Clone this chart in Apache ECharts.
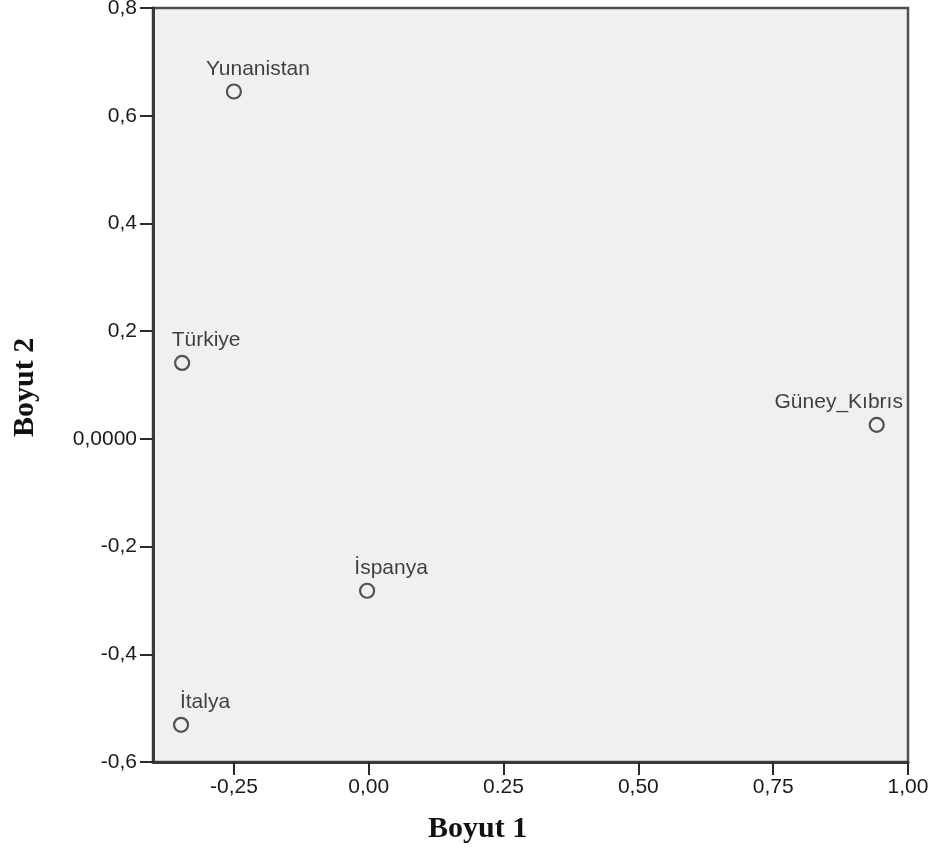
<!DOCTYPE html>
<html>
<head>
<meta charset="utf-8">
<script src="https://cdn.jsdelivr.net/npm/echarts@6/dist/echarts.min.js"></script>
<style>
  html, body { margin: 0; padding: 0; background: #ffffff; overflow: hidden; }
  #chart { width: 928px; height: 852px; }
</style>
</head>
<body>
<div id="chart"></div>
<script>
// Two-dimensional configuration of the countries
const countries = ['Yunanistan', 'Türkiye', 'Güney_Kıbrıs', 'İspanya', 'İtalya'];
const dim1 = [-0.250, -0.346, 0.942, -0.003, -0.348];
const dim2 = [0.645, 0.141, 0.026, -0.282, -0.531];

// Axis ticks and their printed labels
const xTicks = [-0.25, 0, 0.25, 0.5, 0.75, 1.0];
const xTickLabels = ['-0,25', '0,00', '0.25', '0,50', '0,75', '1,00'];
const yTicks = [-0.6, -0.4, -0.2, 0, 0.2, 0.4, 0.6, 0.8];
const yTickLabels = ['-0,6', '-0,4', '-0,2', '0,0000', '0,2', '0,4', '0,6', '0,8'];

const axisTitleX = 'Boyut 1';
const axisTitleY = 'Boyut 2';

function tickLabel(ticks, labels) {
  return function (v) {
    for (let i = 0; i < ticks.length; i++) {
      if (Math.abs(ticks[i] - v) < 1e-6) return labels[i];
    }
    return '';
  };
}

const chart = echarts.init(document.getElementById('chart'), null, { renderer: 'canvas' });

const points = countries.map(function (name, i) {
  const item = { name: name, value: [dim1[i], dim2[i]] };
  // keep the right-most label inside the frame
  if (dim1[i] > 0.8) item.label = { offset: [-38, 0] };
  return item;
});

const axisLine = { show: true, onZero: false, lineStyle: { color: '#3a3a3a', width: 3 } };
const tickFont = { fontFamily: 'Liberation Sans', fontSize: 21, color: '#1a1a1a' };

chart.setOption({
  animation: false,
  backgroundColor: '#ffffff',
  grid: {
    left: 153, right: 20, top: 8, bottom: 90,
    outerBoundsMode: 'none',
    show: true, backgroundColor: '#f0f0f0', borderColor: '#4e4e4e', borderWidth: 2.5
  },
  xAxis: {
    type: 'value', min: -0.4, max: 1.0,
    splitLine: { show: false },
    axisLine: axisLine,
    axisTick: { show: true, length: 13, customValues: xTicks, lineStyle: { color: '#2a2a2a', width: 2 } },
    axisLabel: Object.assign({
      margin: 15, customValues: xTicks,
      formatter: tickLabel(xTicks, xTickLabels)
    }, tickFont)
  },
  yAxis: {
    type: 'value', min: -0.6, max: 0.8,
    splitLine: { show: false },
    axisLine: axisLine,
    axisTick: { show: true, length: 13, customValues: yTicks, lineStyle: { color: '#2a2a2a', width: 2 } },
    axisLabel: Object.assign({
      margin: 16, customValues: yTicks,
      formatter: tickLabel(yTicks, yTickLabels)
    }, tickFont)
  },
  graphic: [
    {
      type: 'text', left: 428, top: 814,
      style: { text: axisTitleX, fontFamily: 'Liberation Serif', fontWeight: 'bold', fontSize: 30, fill: '#111' }
    },
    {
      type: 'text', x: 10, y: 437, rotation: Math.PI / 2,
      style: { text: axisTitleY, fontFamily: 'Liberation Serif', fontWeight: 'bold', fontSize: 30, fill: '#111' }
    }
  ],
  series: [{
    type: 'scatter',
    data: points,
    symbol: 'circle',
    symbolSize: 14,
    itemStyle: { color: 'rgba(0,0,0,0)', borderColor: '#2a2a2a', borderWidth: 2.2 },
    label: {
      show: true, position: 'top', distance: 4, offset: [24, 0],
      formatter: '{b}',
      fontFamily: 'Liberation Sans', fontSize: 21, color: '#111'
    }
  }]
});
</script>
</body>
</html>
